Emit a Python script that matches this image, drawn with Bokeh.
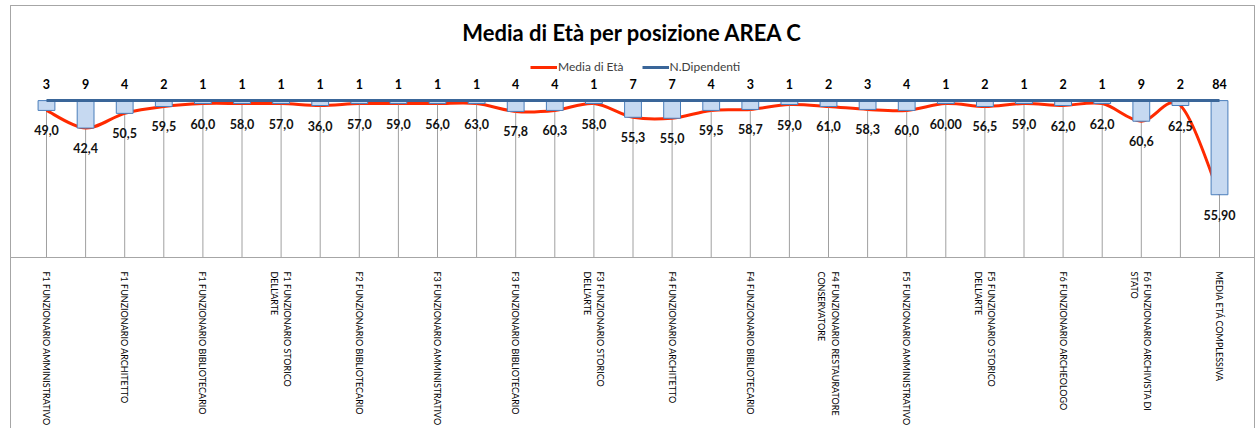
from bokeh.plotting import figure
from bokeh.models import Range1d, FixedTicker, Legend, LegendItem, Label
from bokeh.core.properties import value
from bokeh.embed import file_html
from bokeh.resources import INLINE

# ---- data ----
n_dipendenti = [3, 9, 4, 2, 1, 1, 1, 1, 1, 1, 1, 1, 4, 4, 1, 7, 7, 4, 3, 1, 2, 3, 4, 1, 2, 1, 2, 1, 9, 2, 84]
media_eta = [49.0, 42.4, 50.5, 59.5, 60.0, 58.0, 57.0, 36.0, 57.0, 59.0, 56.0, 63.0, 57.8, 60.3, 58.0,
             55.3, 55.0, 59.5, 58.7, 59.0, 61.0, 58.3, 60.0, 60.00, 56.5, 59.0, 62.0, 62.0, 60.6, 62.5, 55.90]
decimali = [1, 1, 1, 1, 1, 1, 1, 1, 1, 1, 1, 1, 1, 1, 1, 1, 1, 1, 1, 1, 1, 1, 1, 2, 1, 1, 1, 1, 1, 1, 2]
# position of the "Media di Età" line on the chart's (hidden, reversed) value axis
linea_media = [10, 28, 13, 6, 3, 3, 3, 5, 3, 3, 3, 3, 11, 10, 3, 17, 18, 10, 9, 4, 6, 9, 10, 3, 6, 3, 5, 3, 21, 5, 96]
# position of the "N.Dipendenti" line on the same axis (flat at the top)
linea_dipendenti = [0] * 31
# labelled categories (every other one is shown on the axis)
etichette = [
    "F1 FUNZIONARIO AMMINISTRATIVO",
    "F1 FUNZIONARIO ARCHITETTO",
    "F1 FUNZIONARIO BIBLIOTECARIO",
    "F1 FUNZIONARIO STORICO\nDELL'ARTE",
    "F2 FUNZIONARIO BIBLIOTECARIO",
    "F3 FUNZIONARIO AMMINISTRATIVO",
    "F3 FUNZIONARIO BIBLIOTECARIO",
    "F3 FUNZIONARIO STORICO\nDELL'ARTE",
    "F4 FUNZIONARIO ARCHITETTO",
    "F4 FUNZIONARIO BIBLIOTECARIO",
    "F4 FUNZIONARIO RESTAURATORE\nCONSERVATORE",
    "F5 FUNZIONARIO AMMINISTRATIVO",
    "F5 FUNZIONARIO STORICO\nDELL'ARTE",
    "F6 FUNZIONARIO ARCHEOLOGO",
    "F6 FUNZIONARIO ARCHIVISTA DI\nSTATO",
    "MEDIA ETÁ COMPLESSIVA",
]

n = len(n_dipendenti)
pos = list(range(1, n + 1))
eta_txt = [f"{v:.{d}f}".replace(".", ",") for v, d in zip(media_eta, decimali)]

FONT = "Lato"
RED = "#FF2A00"
BLUE = "#3A6699"
GRAY = "#A6A6A6"

p = figure(width=1256, height=428, output_backend="svg", toolbar_location=None,
           x_range=Range1d(0.0793, 31.895), y_range=Range1d(160, -97),
           y_axis_location=None, min_border_left=10, min_border_right=2,
           min_border_top=5, min_border_bottom=166)
# outer chart border continuing below the plot frame
p.styles = {"background": f"linear-gradient({GRAY},{GRAY}) 10px 5px / 1px 100% no-repeat, "
                          f"linear-gradient({GRAY},{GRAY}) 1254px 5px / 1px 100% no-repeat, white"}
p.border_fill_alpha = 0
p.outline_line_color = GRAY
p.xgrid.grid_line_color = None
p.ygrid.grid_line_color = None
p.background_fill_color = "white"

# drop lines
p.segment(x0=pos, y0=linea_dipendenti, x1=pos, y1=[160] * n, line_color="#A0A0A0", line_width=1)

# smoothed Media di Età line (Catmull-Rom as cubic Bezier)
x0, y0, x1, y1, cx0, cy0, cx1, cy1 = [], [], [], [], [], [], [], []
for i in range(n - 1):
    a = max(i - 1, 0)
    b = min(i + 2, n - 1)
    x0.append(pos[i]); y0.append(linea_media[i])
    x1.append(pos[i + 1]); y1.append(linea_media[i + 1])
    cx0.append(pos[i] + (pos[i + 1] - pos[a]) / 6)
    cy0.append(linea_media[i] + (linea_media[i + 1] - linea_media[a]) / 6)
    cx1.append(pos[i + 1] - (pos[b] - pos[i]) / 6)
    cy1.append(linea_media[i + 1] - (linea_media[b] - linea_media[i]) / 6)
r_media = p.bezier(x0=x0, y0=y0, x1=x1, y1=y1, cx0=cx0, cy0=cy0, cx1=cx1, cy1=cy1,
                   line_color=RED, line_width=3)

# up-down bars
p.vbar(x=pos, top=linea_dipendenti, bottom=linea_media, width=0.43,
       fill_color="#C6D9F1", line_color="#4A7EBB", line_width=1)

# N.Dipendenti line
r_dip = p.line(x=pos, y=linea_dipendenti, line_color=BLUE, line_width=3)

# labels
p.text(x=pos, y=linea_dipendenti, text=[str(v) for v in n_dipendenti], y_offset=-17,
       text_align="center", text_baseline="middle", text_font=value(FONT),
       text_font_style="bold", text_font_size="12.5px", text_color="#000000")
p.text(x=pos, y=linea_media, text=eta_txt, y_offset=20,
       text_align="center", text_baseline="middle", text_font=value(FONT),
       text_font_style="bold", text_font_size="12.5px", text_color="#111111")

# title
p.add_layout(Label(x=622, y=225, x_units="screen", y_units="screen",
                   text="Media di Età per posizione AREA C", text_align="center",
                   text_baseline="middle", text_font=FONT, text_font_style="bold",
                   text_font_size="22px", text_color="#000000"))

# legend
legend = Legend(items=[LegendItem(label="Media di Età", renderers=[r_media]),
                       LegendItem(label="N.Dipendenti", renderers=[r_dip])],
                orientation="horizontal", location=(520, 183), padding=0, margin=0,
                spacing=18, label_standoff=1, glyph_width=27, glyph_height=14,
                label_height=14, label_text_font=FONT, label_text_font_size="12px",
                label_text_color="#404040", border_line_color=None,
                background_fill_alpha=0)
p.add_layout(legend)

# x axis
ax = p.xaxis[0]
ax.ticker = FixedTicker(ticks=pos[::2])
ax.major_label_overrides = {k: lab for k, lab in zip(pos[::2], etichette)}
ax.major_label_orientation = "vertical"
ax.major_label_standoff = 8
ax.major_tick_line_color = None
ax.minor_tick_line_color = None
ax.axis_line_color = GRAY
ax.major_label_text_font = FONT
ax.major_label_text_font_size = "9px"
ax.major_label_text_color = "#000000"

open("out.html", "w").write(file_html(p, INLINE))
